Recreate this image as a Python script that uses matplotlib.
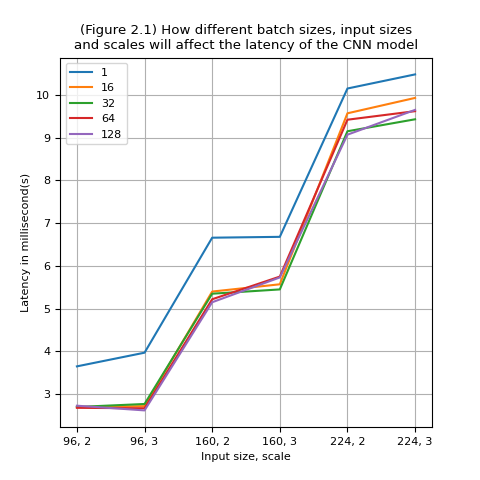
import matplotlib
matplotlib.use("Agg")
import matplotlib.pyplot as plt

plt.rcParams["font.size"] = 8

xlabels = ["96, 2", "96, 3", "160, 2", "160, 3", "224, 2", "224, 3"]
batch_sizes = ["1", "16", "32", "64", "128"]
lat_1 = [3.65, 3.97, 6.66, 6.68, 10.15, 10.48]
lat_16 = [2.70, 2.72, 5.40, 5.57, 9.57, 9.93]
lat_32 = [2.70, 2.77, 5.35, 5.45, 9.15, 9.43]
lat_64 = [2.68, 2.67, 5.22, 5.75, 9.42, 9.62]
lat_128 = [2.73, 2.62, 5.15, 5.73, 9.07, 9.65]
series = [lat_1, lat_16, lat_32, lat_64, lat_128]

fig = plt.figure(figsize=(4.8, 4.8), dpi=100)
for name, vals in zip(batch_sizes, series):
    plt.plot(xlabels, vals, label=name)
plt.legend(loc="upper left")
plt.grid(True)
plt.xlabel("Input size, scale")
plt.ylabel("Latency in millisecond(s)")
plt.title("(Figure 2.1) How different batch sizes, input sizes\nand scales will affect the latency of the CNN model")
fig.savefig("out.png")
